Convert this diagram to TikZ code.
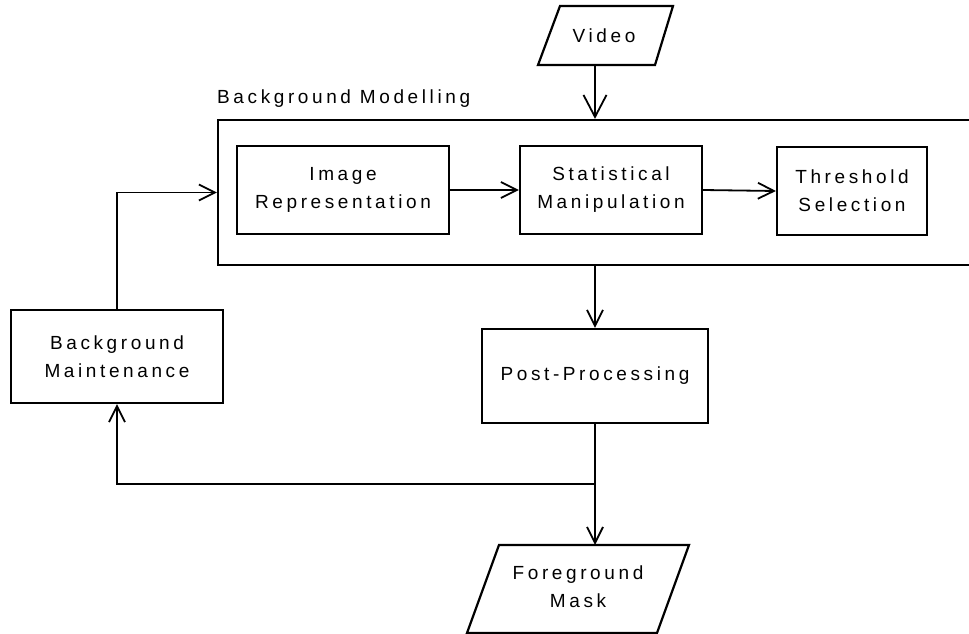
\documentclass[tikz,border=0pt]{standalone}
\usepackage{fontspec}
\setmainfont{Liberation Sans}[LetterSpace=19]
\usetikzlibrary{arrows.meta}

\tikzset{
  lbl/.style={font=\fontsize{19}{28}\selectfont, align=center, inner sep=0pt},
  stage/.style={lbl, draw, line width=2.2pt, rectangle},
  outline/.style={line width=2.2pt, line join=miter},
  flow/.style={line width=1.8pt, -{Straight Barb[length=16pt,width=16pt]}},
  bigflow/.style={line width=1.8pt, -{Straight Barb[length=22pt,width=23pt]}},
  wire/.style={line width=1.8pt}
}

\begin{document}
\begin{tikzpicture}[x=1pt,y=-1pt]
  \useasboundingbox (0,0) rectangle (969,634);
  \clip (0,0) rectangle (969,634);

  % input data: video parallelogram
  \coordinate (v1) at (560,6);
  \coordinate (v2) at (673,6);
  \coordinate (v3) at (655,65);
  \coordinate (v4) at (538,65);
  \draw[outline] (v1) -- (v2) -- (v3) -- (v4) -- cycle;
  \node[lbl] (video) at (604,35.5) {Video};

  % output data: foreground mask parallelogram
  \coordinate (m1) at (499,545);
  \coordinate (m2) at (689,545);
  \coordinate (m3) at (657,633);
  \coordinate (m4) at (467,633);
  \draw[outline] (m1) -- (m2) -- (m3) -- (m4) -- cycle;
  \node[lbl] (mask) at (578,587) {Foreground\\Mask};

  % background modelling group (runs off the right edge)
  \node[draw, line width=2.2pt, minimum width=782pt, minimum height=145pt, inner sep=0pt]
    (model) at (609,192.5) {};
  \node[lbl, anchor=base west] (modeltitle) at (217,103) {Background Modelling};

  % processing stages
  \node[stage, minimum width=212pt, minimum height=88pt] (repr) at (343,190) {Image\\Representation};
  \node[stage, minimum width=182pt, minimum height=88pt] (stat) at (611,190) {Statistical\\Manipulation};
  \node[stage, minimum width=150pt, minimum height=88pt] (thr) at (852,191) {Threshold\\Selection};
  \node[stage, minimum width=226pt, minimum height=94pt] (post) at (595,376) {Post-Processing};
  \node[stage, minimum width=212pt, minimum height=93pt] (maint) at (117,356.5) {Background\\Maintenance};

  % main column and split point
  \coordinate (axis) at (595,0);
  \coordinate (split) at (595,484);

  % connectors
  \draw[bigflow] (v4 -| axis) -- (model.north -| axis);
  \draw[flow] (repr.east) -- (stat.west);
  \draw[flow] (stat.east) -- (thr.west);
  \draw[flow] (model.south -| axis) -- (post.north -| axis);
  \draw[wire] (post.south) -- (split);
  \draw[flow] (split) -- (split |- m1);
  \draw[flow] (split) -| (maint.south);
  \draw[flow] (maint.north) |- (model.west);
\end{tikzpicture}
\end{document}
